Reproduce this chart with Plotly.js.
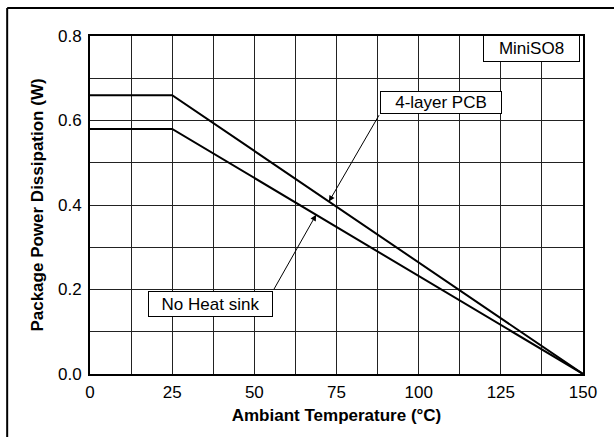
<!DOCTYPE html>
<html>
<head>
<meta charset="utf-8">
<script src="https://cdn.plot.ly/plotly-3.0.1.min.js"></script>
<style>html,body{margin:0;padding:0;background:#fff;}#chart{width:614px;height:437px;}</style>
</head>
<body>
<div id="chart"></div>
<script>
// Data
const tempPCB = [0, 25, 150];
const powerPCB = [0.66, 0.66, 0.0];
const tempNoSink = [0, 25, 150];
const powerNoSink = [0.58, 0.58, 0.0];
const yTickVals = [0, 0.2, 0.4, 0.6, 0.8];
const yTickText = ["0.0", "0.2", "0.4", "0.6", "0.8"];
const xTickVals = [0, 25, 50, 75, 100, 125, 150];
const xTickText = ["0", "25", "50", "75", "100", "125", "150"];

const font = "Liberation Sans, Arial, sans-serif";

const traces = [
  {x: tempPCB, y: powerPCB, mode: "lines", line: {color: "#000", width: 2}, name: "4-layer PCB", showlegend: false, hoverinfo: "skip"},
  {x: tempNoSink, y: powerNoSink, mode: "lines", line: {color: "#000", width: 2}, name: "No Heat sink", showlegend: false, hoverinfo: "skip"}
];

const layout = {
  width: 614, height: 437,
  margin: {l: 90, r: 31, t: 36, b: 62.5, pad: 0},
  paper_bgcolor: "#fff", plot_bgcolor: "#fff",
  font: {family: font, color: "#000", size: 17},
  showlegend: false,
  xaxis: {
    range: [0, 150], tickvals: xTickVals, ticktext: xTickText,
    showgrid: true, gridcolor: "#222", gridwidth: 1,
    minor: {dtick: 12.5, tick0: 0, showgrid: true, gridcolor: "#222", gridwidth: 1, ticks: ""},
    showline: true, linecolor: "#000", linewidth: 2, mirror: true,
    ticks: "", zeroline: false, ticklabelstandoff: 2,
    tickfont: {family: font, size: 17, color: "#000"},
    title: {text: "Ambiant Temperature (°C)", font: {family: font, size: 17, color: "#000", weight: "bold"}, standoff: 8}
  },
  yaxis: {
    range: [0, 0.8], tickvals: yTickVals, ticktext: yTickText,
    showgrid: true, gridcolor: "#222", gridwidth: 1,
    minor: {dtick: 0.1, tick0: 0, showgrid: true, gridcolor: "#222", gridwidth: 1, ticks: ""},
    showline: true, linecolor: "#000", linewidth: 2, mirror: true,
    ticks: "", zeroline: false, ticklabelstandoff: 3,
    tickfont: {family: font, size: 17, color: "#000"},
    title: {text: "Package Power Dissipation (W)", font: {family: font, size: 17, color: "#000", weight: "bold"}, standoff: 10}
  },
  shapes: [
    {type: "line", xref: "paper", yref: "paper", x0: -0.168, x1: -0.168, y0: 1.083, y1: -0.3, line: {color: "#000", width: 2}},
    {type: "line", xref: "paper", yref: "paper", x0: -0.168, x1: 1.2, y0: 1.083, y1: 1.083, line: {color: "#000", width: 2}}
  ],
  annotations: [
    // arrows
    {xref: "x", yref: "y", axref: "x", ayref: "y", x: 72.7, y: 0.408, ax: 88.2, ay: 0.616, text: "", showarrow: true, arrowhead: 2, arrowsize: 1.2, arrowwidth: 1, arrowcolor: "#000"},
    {xref: "x", yref: "y", axref: "x", ayref: "y", x: 68.8, y: 0.377, ax: 55.7, ay: 0.197, text: "", showarrow: true, arrowhead: 2, arrowsize: 1.2, arrowwidth: 1, arrowcolor: "#000"},
    // labels
    {xref: "x", yref: "y", x: 106.8, y: 0.643, text: "4-layer PCB", showarrow: false, bgcolor: "#fff", bordercolor: "#000", borderwidth: 1, borderpad: 1, width: 118, height: 19, font: {family: font, size: 17, color: "#000"}},
    {xref: "x", yref: "y", x: 36.7, y: 0.166, text: "No Heat sink", showarrow: false, bgcolor: "#fff", bordercolor: "#000", borderwidth: 1, borderpad: 1, width: 121, height: 22, font: {family: font, size: 17, color: "#000"}},
    {xref: "x", yref: "y", x: 134.3, y: 0.770, text: "MiniSO8", showarrow: false, bgcolor: "#fff", bordercolor: "#000", borderwidth: 1, borderpad: 1, width: 93, height: 23, font: {family: font, size: 17, color: "#000"}}
  ]
};

Plotly.newPlot("chart", traces, layout, {staticPlot: true, displayModeBar: false});
</script>
</body>
</html>
